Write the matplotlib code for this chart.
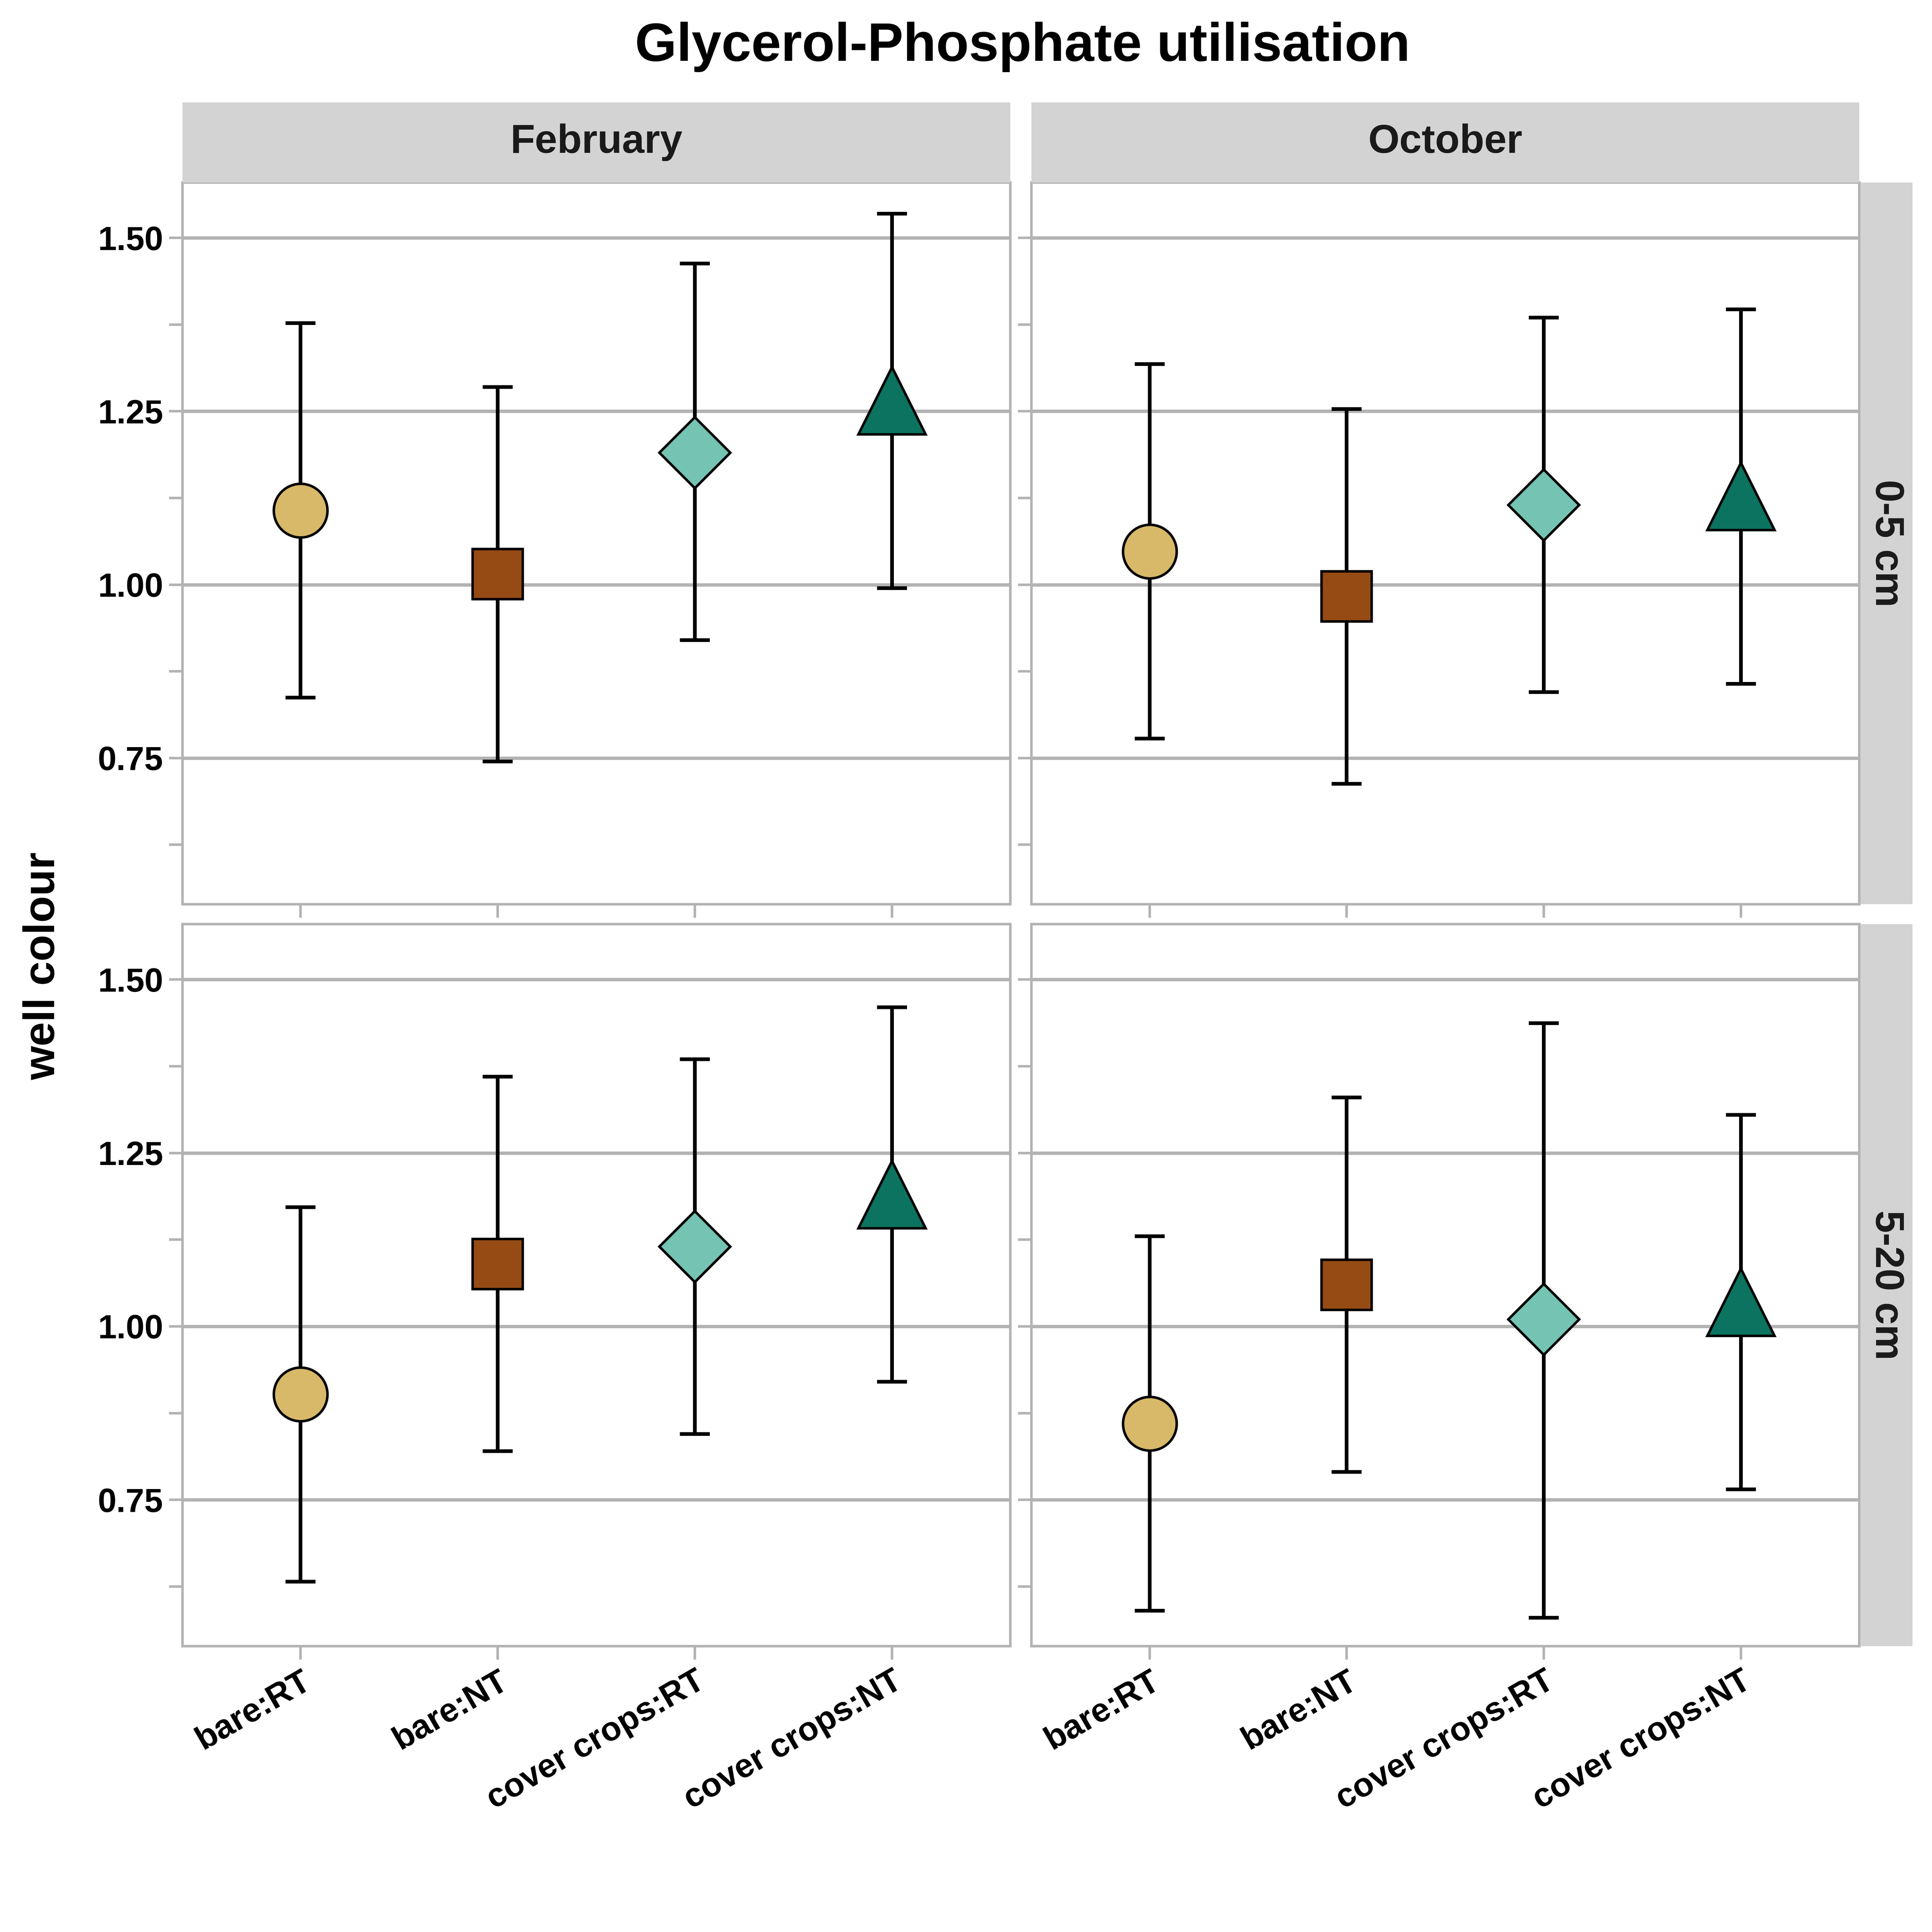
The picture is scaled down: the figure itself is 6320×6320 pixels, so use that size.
import matplotlib
matplotlib.use("Agg")
import matplotlib.pyplot as plt
import numpy as np

plt.rcParams['font.family'] = ['Liberation Sans', 'DejaVu Sans']
plt.rcParams['font.weight'] = 'bold'

categories = ["bare:RT", "bare:NT", "cover crops:RT", "cover crops:NT"]
months = ["February", "October"]
depths = ["0-5 cm", "5-20 cm"]
means = {
    ("0-5 cm", "February"): [1.107, 1.015, 1.190, 1.265],
    ("0-5 cm", "October"): [1.048, 0.983, 1.115, 1.127],
    ("5-20 cm", "February"): [0.902, 1.090, 1.115, 1.190],
    ("5-20 cm", "October"): [0.860, 1.060, 1.010, 1.035],
}
lows = {
    ("0-5 cm", "February"): [0.837, 0.745, 0.920, 0.995],
    ("0-5 cm", "October"): [0.778, 0.713, 0.845, 0.857],
    ("5-20 cm", "February"): [0.632, 0.820, 0.845, 0.920],
    ("5-20 cm", "October"): [0.590, 0.790, 0.580, 0.765],
}
highs = {
    ("0-5 cm", "February"): [1.377, 1.285, 1.463, 1.535],
    ("0-5 cm", "October"): [1.318, 1.253, 1.385, 1.397],
    ("5-20 cm", "February"): [1.172, 1.360, 1.385, 1.460],
    ("5-20 cm", "October"): [1.130, 1.330, 1.437, 1.305],
}
colors = ["#D8B869", "#964B14", "#74C3B3", "#0B735F"]
markers = ["o", "s", "D", "^"]
msizes = [32, 30, 30, 40]

W = 1568.0
fig = plt.figure(figsize=(16, 16), dpi=395)
xl = [148, 837]; pw = 672
yt = [148, 750]; ph = 586
for r, d in enumerate(depths):
    for c, m in enumerate(months):
        ax = fig.add_axes([xl[c]/W, 1 - (yt[r]+ph)/W, pw/W, ph/W])
        ax.set_facecolor("white")
        ax.set_xlim(0.4, 4.6)
        ax.set_ylim(0.539, 1.58)
        ax.set_yticks([0.75, 1.0, 1.25, 1.5])
        ax.set_yticks([0.625, 0.875, 1.125, 1.375], minor=True)
        ax.grid(True, which='major', axis='y', color='#B3B3B3', lw=2)
        ax.set_axisbelow(True)
        for s in ax.spines.values():
            s.set_color('#B3B3B3'); s.set_linewidth(1.5)
        ax.tick_params(which='both', color='#B3B3B3', length=8, width=1.5)
        x = np.arange(1, 5)
        mu = np.array(means[(d, m)]); lo = np.array(lows[(d, m)]); hi = np.array(highs[(d, m)])
        ax.errorbar(x, mu, yerr=[mu-lo, hi-mu], fmt='none', ecolor='black', elinewidth=2.2, capsize=9, capthick=2.2, zorder=2)
        for i in range(4):
            ax.plot(x[i], mu[i], marker=markers[i], ms=msizes[i], mfc=colors[i], mec='black', mew=1.5, ls='none', zorder=3)
        ax.set_xticks(x)
        if r == 1:
            ax.set_xticklabels(categories, rotation=30, ha='right', fontsize=20, fontweight='bold', rotation_mode='anchor')
        else:
            ax.set_xticklabels([])
        if c == 0:
            ax.set_yticklabels(["0.75", "1.00", "1.25", "1.50"], fontsize=20, fontweight='bold')
        else:
            ax.set_yticklabels([])
        if r == 0:
            sax = fig.add_axes([xl[c]/W, 1 - 148/W, pw/W, 65/W])
            sax.set_facecolor('#D3D3D3'); sax.set_xticks([]); sax.set_yticks([])
            for s in sax.spines.values(): s.set_visible(False)
            sax.text(0.5, 0.5, m, ha='center', va='center', fontsize=24, fontweight='bold', color='#1A1A1A', transform=sax.transAxes)
        if c == 1:
            sax = fig.add_axes([1510/W, 1 - (yt[r]+ph)/W, 42/W, ph/W])
            sax.set_facecolor('#D3D3D3'); sax.set_xticks([]); sax.set_yticks([])
            for s in sax.spines.values(): s.set_visible(False)
            sax.text(0.5, 0.5, d, ha='center', va='center', rotation=-90, fontsize=24, fontweight='bold', color='#1A1A1A', transform=sax.transAxes)

fig.text(35/W, 0.5, "well colour", rotation=90, ha='center', va='center', fontsize=26, fontweight='bold')
fig.text(830/W, 1 - 38/W, "Glycerol-Phosphate utilisation", ha='center', va='center', fontsize=32, fontweight='bold')
fig.savefig("out.png", dpi=395, facecolor='white')
